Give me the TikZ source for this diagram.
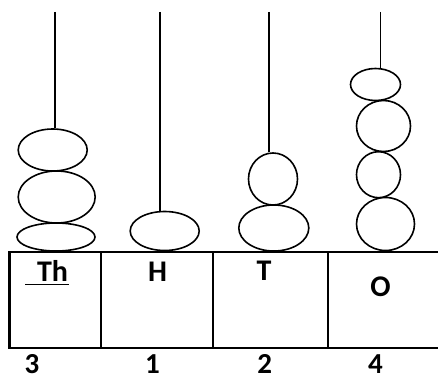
\documentclass[tikz,border=0pt]{standalone}
\usepackage{fontspec}
\setmainfont{Carlito}
\usepackage{tikz}
\usetikzlibrary{positioning, shapes.geometric}

\begin{document}
\begin{tikzpicture}[
				x=1pt, y=-1pt,
				bead/.style={draw, ellipse, line width=1.6pt, inner sep=0pt},
				rod/.style={line width=1.4pt},
				frame/.style={line width=2.2pt},
				place/.style={font=\fontsize{30}{36}\selectfont\bfseries, anchor=base, inner sep=0pt},
				digit/.style={font=\fontsize{29}{35}\selectfont\bfseries, anchor=base, inner sep=0pt}]

			\useasboundingbox (0,0) rectangle (438,379);

			% beads
			\node[bead, minimum width=69pt, minimum height=42pt] (th_1) at (52.7,150) {};
			\node[bead, minimum width=77pt, minimum height=52pt] (th_2) at (56.7,197) {};
			\node[bead, minimum width=78pt, minimum height=28pt] (th_3) at (56,237) {};

			\node[bead, minimum width=69pt, minimum height=39pt] (h_1) at (164.7,231) {};

			\node[bead, minimum width=49pt, minimum height=52pt] (t_1) at (273,179) {};
			\node[bead, minimum width=70pt, minimum height=46pt] (t_2) at (273.8,228) {};

			\node[bead, minimum width=50pt, minimum height=32pt] (o_1) at (375.5,84.5) {};
			\node[bead, minimum width=54pt, minimum height=51pt] (o_2) at (383.5,126) {};
			\node[bead, minimum width=44pt, minimum height=46pt] (o_3) at (378.5,174.7) {};
			\node[bead, minimum width=58pt, minimum height=53pt] (o_4) at (385.5,224) {};

			% rods
			\coordinate (th_top) at (55,12);
			\coordinate (h_top) at (160,12);
			\coordinate (t_top) at (269,12);
			\coordinate (o_top) at (380.7,12);

			\draw[rod] (th_top) -- (th_top |- th_1.north);
			\draw[rod] (h_top) -- (h_top |- h_1.north);
			\draw[rod] (t_top) -- (t_top |- t_1.north);
			\draw[rod] (o_top) -- (o_top |- o_1.north);

			% place value table
			\draw[frame] (438,251.7) -- (9.5,251.7) -- (9.5,347.7) -- (438,347.7);
			\draw[frame] (100.7,251.7) -- (100.7,347.7)
					(213.3,251.7) -- (213.3,347.7)
					(328,251.7) -- (328,347.7);

			\node[place] (th_label) at (52.5,281.7) {Th};
			\node[place] (h_label) at (157.5,281.7) {H};
			\node[place] (t_label) at (264,280) {T};
			\node[place] (o_label) at (380.5,296.7) {O};
			\draw[line width=1.8pt] (25,284.5) -- (69,284.5);

			\node[digit] (th_count) at (32,373) {3};
			\node[digit] (h_count) at (152.5,373) {1};
			\node[digit] (t_count) at (264.7,373) {2};
			\node[digit] (o_count) at (375.5,373) {4};

		\end{tikzpicture}
\end{document}
